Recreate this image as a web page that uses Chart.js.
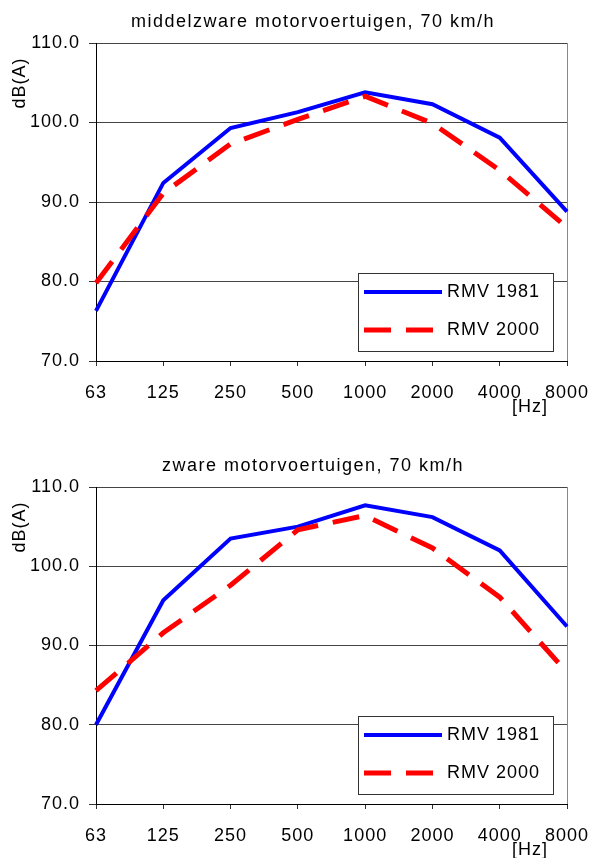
<!DOCTYPE html>
<html>
<head>
<meta charset="utf-8">
<title>RMV 1981 / 2000</title>
<script src="https://cdn.jsdelivr.net/npm/chart.js@4.4.1/dist/chart.umd.min.js"></script>
<style>
  body { margin: 0; background: #fff; }
  .chart-box { width: 594px; }
  canvas { display: block; }
</style>
</head>
<body>
<div class="chart-box"><canvas id="chart-mid" width="594" height="430"></canvas></div>
<div class="chart-box"><canvas id="chart-heavy" width="594" height="428"></canvas></div>
<script>
// x categories (octave bands) and y ticks
const frequencies = ['63', '125', '250', '500', '1000', '2000', '4000', '8000'];
const yTicks = [70, 80, 90, 100, 110];
const seriesLabels = ['RMV 1981', 'RMV 2000'];

// middelzware motorvoertuigen
const midTitle = 'middelzware motorvoertuigen, 70 km/h';
const midRmv1981 = [76.3, 92.4, 99.3, 101.3, 103.8, 102.3, 98.1, 88.8];
const midRmv2000 = [79.8, 91.1, 97.3, 100.4, 103.3, 99.9, 94.0, 86.8];

// zware motorvoertuigen
const heavyTitle = 'zware motorvoertuigen, 70 km/h';
const heavyRmv1981 = [80.0, 95.7, 103.5, 105.0, 107.7, 106.2, 102.0, 92.4];
const heavyRmv2000 = [84.3, 91.6, 97.6, 104.6, 106.4, 102.3, 96.1, 86.6];

Chart.defaults.font.family = '"Liberation Sans", Arial, sans-serif';
Chart.defaults.font.size = 18;
Chart.defaults.color = '#000';

function setSpacing(ctx, v) {
  if ('letterSpacing' in ctx) ctx.letterSpacing = v;
}

// the original lettering is a bit wider than Arial, so space it out
const wideText = {
  id: 'wideText',
  beforeLayout(chart) { setSpacing(chart.ctx, '1px'); },
  beforeDraw(chart) { setSpacing(chart.ctx, '1px'); }
};

// Title, axis captions and the boxed legend inside the plot
const extraText = {
  id: 'extraText',
  afterDraw(chart, args, opts) {
    const ctx = chart.ctx;
    const area = chart.chartArea;
    ctx.save();
    ctx.fillStyle = '#000';
    ctx.font = '18px "Liberation Sans", Arial, sans-serif';
    ctx.textAlign = 'center';
    ctx.textBaseline = 'middle';
    setSpacing(ctx, '1.5px');
    ctx.fillText(opts.title, 313, area.top - 21);
    setSpacing(ctx, '1px');

    ctx.fillText('[Hz]', 530, area.bottom + 46);

    ctx.save();
    ctx.translate(20, area.top + 40);
    ctx.rotate(-Math.PI / 2);
    ctx.fillText('dB(A)', 0, 0);
    ctx.restore();

    // legend box
    const bx = area.right - 209, by = area.bottom - 88, bw = 195, bh = 78;
    ctx.fillStyle = '#fff';
    ctx.fillRect(bx, by, bw, bh);
    ctx.strokeStyle = '#333';
    ctx.lineWidth = 1;
    ctx.strokeRect(bx + 0.5, by + 0.5, bw, bh);

    const legendOrder = [1, 0]; // dataset index for 1981, 2000
    legendOrder.forEach((dsIndex, row) => {
      const ds = chart.data.datasets[dsIndex];
      const y = by + 19 + row * 38;
      ctx.beginPath();
      ctx.strokeStyle = ds.borderColor;
      ctx.lineWidth = ds.borderWidth;
      ctx.setLineDash(ds.borderDash || []);
      ctx.lineCap = 'butt';
      ctx.moveTo(bx + 6, y);
      ctx.lineTo(bx + 84, y);
      ctx.stroke();
      ctx.setLineDash([]);
      ctx.fillStyle = '#000';
      ctx.textAlign = 'left';
      ctx.fillText(ds.label, bx + 89, y);
    });
    ctx.restore();
  }
};

function makeChart(canvasId, title, data1981, data2000, padTop, axisHeight) {
  return new Chart(document.getElementById(canvasId), {
    type: 'line',
    data: {
      labels: frequencies,
      datasets: [
        {
          label: seriesLabels[1],
          data: data2000,
          borderColor: '#ff0000',
          borderWidth: 5,
          borderDash: [27, 15],
          borderCapStyle: 'butt',
          borderJoinStyle: 'miter',
          pointRadius: 0,
          tension: 0,
          order: 0
        },
        {
          label: seriesLabels[0],
          data: data1981,
          borderColor: '#0000ff',
          borderWidth: 4,
          borderJoinStyle: 'miter',
          pointRadius: 0,
          tension: 0,
          order: 1
        }
      ]
    },
    options: {
      responsive: false,
      devicePixelRatio: 1,
      animation: false,
      layout: { padding: { top: padTop, left: 0, right: 27, bottom: 0 } },
      plugins: {
        legend: { display: false },
        tooltip: { enabled: false },
        extraText: { title: title }
      },
      scales: {
        x: {
          offset: false,
          afterFit: (scale) => {
            scale.height = axisHeight;
            scale.paddingLeft = 0;
            scale.paddingRight = 0;
          },
          grid: {
            offset: false,
            color: (c) => c.index === frequencies.length - 1 ? '#888' : 'rgba(0,0,0,0)',
            tickColor: '#333',
            tickLength: 5
          },
          border: { color: '#000', width: 1 },
          ticks: { padding: 16, maxRotation: 0, autoSkip: false, color: '#000' }
        },
        y: {
          min: yTicks[0],
          max: yTicks[yTicks.length - 1],
          afterFit: (scale) => {
            scale.width = 96;
            scale.paddingTop = 0;
            scale.paddingBottom = 0;
          },
          afterBuildTicks: (scale) => { scale.ticks = yTicks.map(v => ({ value: v })); },
          grid: { color: '#444', tickColor: '#333', tickLength: 7 },
          border: { color: '#000', width: 1 },
          ticks: { padding: 9, color: '#000', callback: (v) => Number(v).toFixed(1) }
        }
      }
    },
    plugins: [wideText, extraText]
  });
}

makeChart('chart-mid', midTitle, midRmv1981, midRmv2000, 43, 69);
makeChart('chart-heavy', heavyTitle, heavyRmv1981, heavyRmv2000, 57, 54);
</script>
</body>
</html>
